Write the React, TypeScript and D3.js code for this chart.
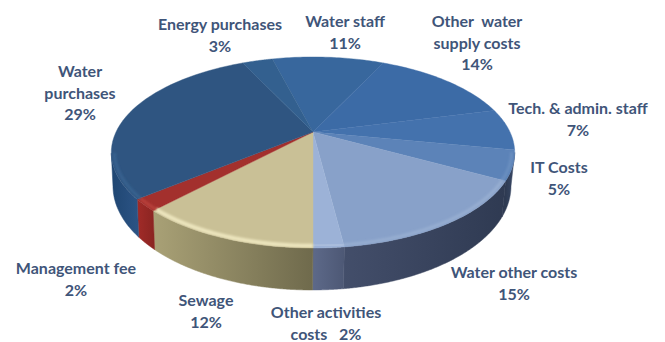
import React from "react";
import * as d3 from "d3";

// Share of total cost per category, clockwise from the top of the pie
const categories = [
  "Water staff",
  "Other water supply costs",
  "Tech. & admin. staff",
  "IT Costs",
  "Water other costs",
  "Other activities costs",
  "Sewage",
  "Management fee",
  "Water purchases",
  "Energy purchases",
];
const shares = [11, 14, 7, 5, 15, 2, 12, 2, 29, 3];
const topColors = ["#38679d", "#3c6ba6", "#4472ad", "#5c83b8", "#88a1c9", "#9cb2d7", "#c9c096", "#a3302d", "#2f5581", "#33608f"];
const wallLeft = ["#38679d", "#3c6ba6", "#3a4a68", "#2e3a52", "#434e6a", "#5d6989", "#a9a176", "#a12b28", "#1f4672", "#2b5384"];
const wallRight = ["#38679d", "#3c6ba6", "#2e3a52", "#3a4a68", "#2f3a52", "#4d5875", "#6f6a4c", "#8c2522", "#2b5384", "#2b5384"];
const rimLights = ["#4673a9", "#4673a9", "#5079b2", "#6a8fc0", "#97aed1", "#adc0de", "#ece5bd", "#b8403b", "#37628f", "#37628f"];

type LabelSpot = { key: string; lines: string[]; x: number; y: number };
const labelSpots: LabelSpot[] = [
  { key: "Energy purchases", lines: ["Energy purchases", "3%"], x: 220, y: 30 },
  { key: "Water staff", lines: ["Water staff", "11%"], x: 345, y: 27 },
  { key: "Other water supply costs", lines: ["Other  water", "supply costs", "14%"], x: 477, y: 27 },
  { key: "Tech. & admin. staff", lines: ["Tech. & admin. staff", "7%"], x: 578, y: 114 },
  { key: "IT Costs", lines: ["IT Costs", "5%"], x: 559, y: 173 },
  { key: "Water other costs", lines: ["Water other costs", "15%"], x: 514, y: 278 },
  { key: "Other activities costs", lines: ["Other activities", "costs   2%"], x: 326, y: 318 },
  { key: "Sewage", lines: ["Sewage", "12%"], x: 206, y: 306 },
  { key: "Management fee", lines: ["Management fee", "2%"], x: 76, y: 274 },
  { key: "Water purchases", lines: ["Water", "purchases", "29%"], x: 80, y: 77 },
];

const WIDTH = 665;
const HEIGHT = 342;

// Perspective projection of the unit disc onto the tilted pie surface
const HUB = { x: 313, y: 132 };
const PERSP = -0.2147;
const SPREAD_Y = 62.8;
const SPREAD_X = 197;
const project = (angle: number, r = 1): [number, number] => {
  const u = Math.sin(angle) * r;
  const v = -Math.cos(angle) * r;
  const w = 1 + PERSP * v;
  return [HUB.x + (SPREAD_X * u) / w, (SPREAD_Y * v + HUB.y) / w];
};

// The rim seen on screen is an ellipse; the underside is a second, lower one
const TOP_RIM = { cx: 312.5, cy: 152.5, rx: 202, ry: 95.5 };
const BOTTOM_RIM = { cx: 312, cy: 186, rx: 199, ry: 104 };
const rimParam = (angle: number) => {
  const [x, y] = project(angle);
  return Math.atan2((y - TOP_RIM.cy) / TOP_RIM.ry, (x - TOP_RIM.cx) / TOP_RIM.rx);
};
const lower = (t: number): [number, number] => [
  BOTTOM_RIM.cx + BOTTOM_RIM.rx * Math.cos(t),
  BOTTOM_RIM.cy + BOTTOM_RIM.ry * Math.sin(t),
];

// The first slice starts a little before twelve o'clock
const START = -0.2513;
const slices = d3
  .pie<number>()
  .sort(null)
  .value((d) => d)
  .startAngle(START)
  .endAngle(START + 2 * Math.PI)(shares);

const line = d3.line();
const steps = (a0: number, a1: number) => d3.range(0, 41).map((i) => a0 + ((a1 - a0) * i) / 40);

const surfacePath = (a0: number, a1: number) =>
  line([[HUB.x, HUB.y], ...steps(a0, a1).map((a) => project(a))])! + "Z";

const frontAngles = (a0: number, a1: number) =>
  d3.range(0, 161).map((i) => a0 + ((a1 - a0) * i) / 160).filter((a) => Math.sin(rimParam(a)) >= -0.001);

const wallPath = (a0: number, a1: number) => {
  const front = frontAngles(a0, a1);
  if (front.length < 2) return null;
  const upper = front.map((a) => project(a));
  const under = front.map((a) => lower(rimParam(a))).reverse();
  return line([...upper, ...under])! + "Z";
};

const bevelPath = (a0: number, a1: number) => {
  const front = frontAngles(a0, a1);
  if (front.length < 2) return null;
  return line(front.map((a) => project(a, 0.985)));
};

export default function App() {
  return (
    <svg
      width={WIDTH}
      height={HEIGHT}
      viewBox={`0 0 ${WIDTH} ${HEIGHT}`}
      style={{ position: "absolute", left: 0, top: 0, background: "#fff" }}
    >
      <defs>
        <filter id="soft" x="-10%" y="-10%" width="120%" height="120%">
          <feGaussianBlur stdDeviation="1.2" />
        </filter>
        <clipPath id="surface">
          <path d={surfacePath(0, 2 * Math.PI)} />
        </clipPath>
        {slices.map((s, i) => {
          const xs = frontAngles(s.startAngle, s.endAngle).map((a) => project(a)[0]);
          const x0 = xs.length ? d3.min(xs)! : 0;
          const x1 = xs.length ? d3.max(xs)! : 1;
          // Each wall segment shades from left to right
          return (
            <linearGradient key={i} id={`wall-${i}`} gradientUnits="userSpaceOnUse" x1={x0} x2={x1} y1={0} y2={0}>
              <stop offset="0" stopColor={wallLeft[i]} />
              <stop offset="1" stopColor={wallRight[i]} />
            </linearGradient>
          );
        })}
      </defs>

      <g>
        {slices.map((s, i) => {
          const d = wallPath(s.startAngle, s.endAngle);
          return d ? <path key={i} d={d} fill={`url(#wall-${i})`} stroke={`url(#wall-${i})`} strokeWidth={0.5} /> : null;
        })}
      </g>

      <g>
        {slices.map((s, i) => (
          <path key={i} d={surfacePath(s.startAngle, s.endAngle)} fill={topColors[i]} stroke={topColors[i]} strokeWidth={0.4} />
        ))}
      </g>

      <g clipPath="url(#surface)">
        {slices.map((s, i) => {
          const d = bevelPath(s.startAngle, s.endAngle);
          return d ? (
            <path key={i} d={d} fill="none" stroke={rimLights[i]} strokeWidth={i === 6 ? 4 : 3} filter="url(#soft)" />
          ) : null;
        })}
      </g>

      <g fontFamily="Lato, sans-serif" fontSize={16} fontWeight={700} fill="#3f5579" textAnchor="middle">
        {labelSpots.map((l) => (
          <text key={l.key} x={l.x} y={l.y} style={{ whiteSpace: "pre" }}>
            {l.lines.map((t, j) => (
              <tspan key={j} x={l.x} dy={j === 0 ? 0 : 21.5}>
                {t}
              </tspan>
            ))}
          </text>
        ))}
      </g>
    </svg>
  );
}
